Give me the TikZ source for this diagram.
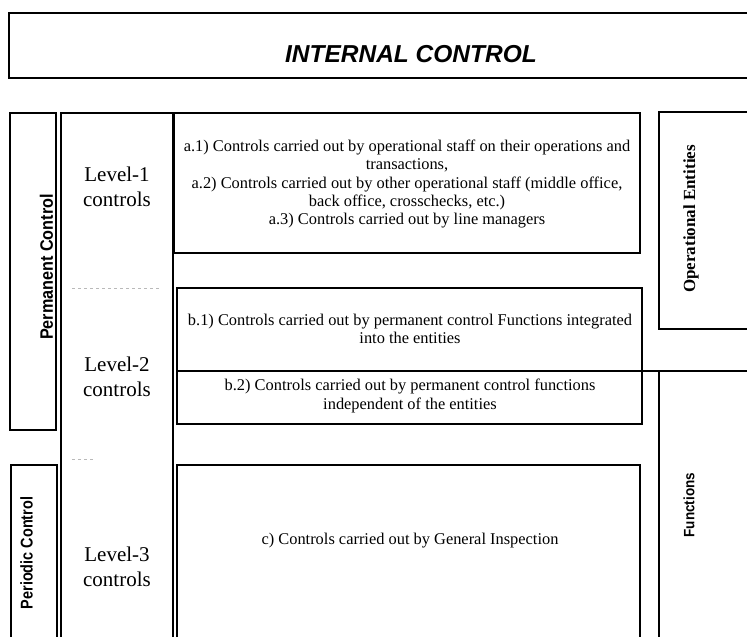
\documentclass[tikz,border=0pt]{standalone}
\usepackage{graphicx}
\usepackage{fontspec}
\setmainfont{Liberation Serif}
\newfontfamily\labelsans{Liberation Sans}
\begin{document}
\begin{tikzpicture}[x=1pt,y=-1pt,
  frame/.style={draw=black,line width=1.2pt},
  thickframe/.style={draw=black,line width=2.4pt},
  boxtext/.style={font=\fontsize{16.4}{18.2}\selectfont, align=center, inner sep=0pt},
  leveltext/.style={font=\fontsize{21}{25}\selectfont, align=center, inner sep=0pt},
  sidelabel/.style={rotate=90, inner sep=0pt},
  faint/.style={draw=gray!55, dashed, line width=0.6pt}]
\useasboundingbox (0,0) rectangle (747,637);

% title band
\draw[frame] (747,13) -- (9,13) -- (9,78) -- (747,78);
\node[font=\labelsans\bfseries\itshape\fontsize{24.5}{28}\selectfont, inner sep=0pt] (title) at (411,54) {INTERNAL CONTROL};

% left side boxes
\draw[frame] (10,113) rectangle (56,430);
\draw[frame] (11,637) -- (11,465) -- (57,465) -- (57,637);
\node[sidelabel, font=\labelsans\bfseries\fontsize{18}{20}\selectfont] (perm) at (46.5,267) {\scalebox{0.9}[1]{Permanent Control}};
\node[sidelabel, font=\labelsans\bfseries\fontsize{17}{19}\selectfont] (peri) at (26.5,553) {\scalebox{0.85}[1]{Periodic Control}};

% level column
\draw[frame] (61,637) -- (61,113) -- (173,113);
\draw[thickframe] (173,112) -- (173,637);
\draw[faint] (72,288) -- (160,288);
\draw[faint] (72,459) -- (93,459);
\node[leveltext] (lv1) at (117,187) {Level-1\\controls};
\node[leveltext] (lv2) at (117,377) {Level-2\\controls};
\node[leveltext] (lv3) at (117,567) {Level-3\\controls};

% box a
\draw[frame] (174,113) rectangle (640,253);
\node[boxtext] (a) at (407,184) {a.1) Controls carried out by operational staff on their operations and\\transactions,\\a.2) Controls carried out by other operational staff (middle office,\\back office, crosschecks, etc.)\\a.3) Controls carried out by line managers};

% box b
\draw[frame] (177,288) rectangle (642,424);
\draw[frame] (177,371) -- (747,371);
\node[boxtext] (b1) at (410,329) {b.1) Controls carried out by permanent control Functions integrated\\into the entities};
\node[boxtext] (b2) at (410,396) {b.2) Controls carried out by permanent control functions\\independent of the entities};

% box c
\draw[frame] (177,637) -- (177,465) -- (640,465) -- (640,637);
\node[boxtext] (c) at (410,541) {c) Controls carried out by General Inspection};

% right side
\draw[frame] (747,112) -- (659,112) -- (659,329) -- (747,329);
\node[rotate=90, inner sep=0pt, font=\bfseries\fontsize{17}{19}\selectfont] (ops) at (691,219) {Operational Entities};
\draw[frame] (659,371) -- (659,637);
\node[sidelabel, font=\labelsans\bfseries\fontsize{15}{17}\selectfont] (fun) at (689,505) {\scalebox{0.9}[1]{Functions}};
\end{tikzpicture}
\end{document}
